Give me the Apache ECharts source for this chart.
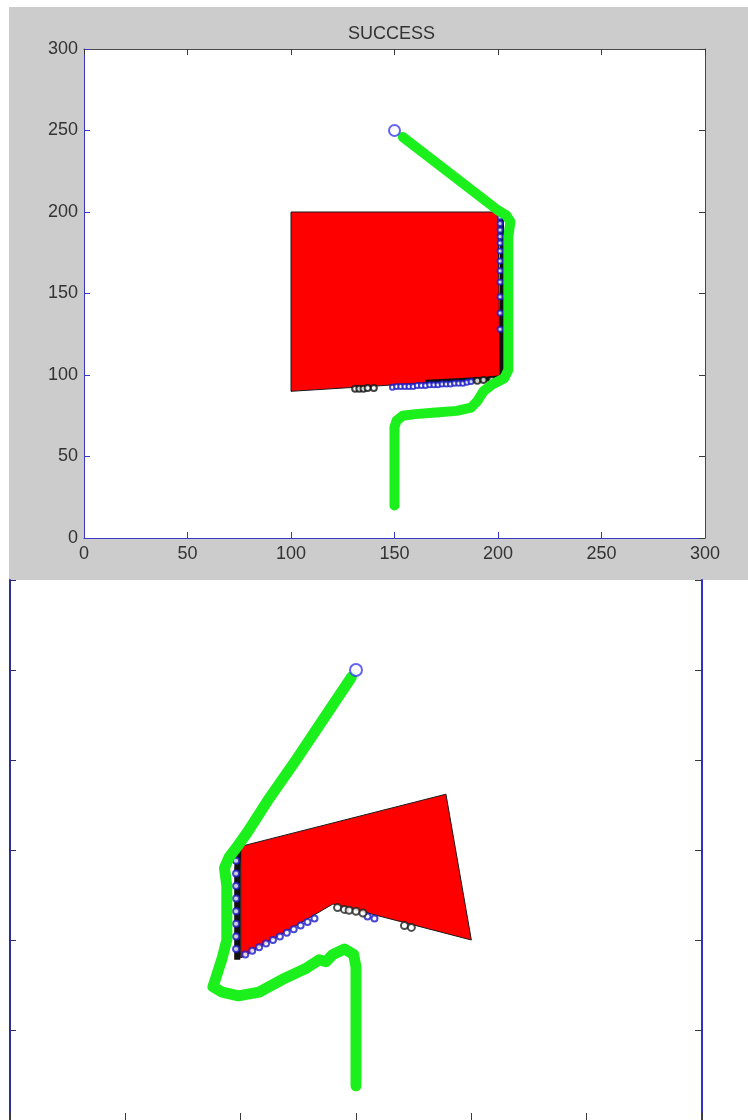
<!DOCTYPE html>
<html>
<head>
<meta charset="utf-8">
<script src="https://cdn.jsdelivr.net/npm/echarts@6/dist/echarts.min.js"></script>
<style>
html,body{margin:0;padding:0;background:#fff;}
#chart{width:748px;height:1120px;}
</style>
</head>
<body>
<div id="chart"></div>
<script>
// ---- data ----
var titleText = 'SUCCESS';
var axisMin = 0, axisMax = 300, axisStep = 50;

// top plot
var topObstacle = [[100,200],[200,200],[201,98],[100,90]];
var topPath = [[150,20],[150,45],[150,68],[151,72],[154,75],[160,76],[170,77],[180,78],[187,80],[190,84],[193,90],[197,94],[203,98],[205,103],[205,130],[205,160],[205,185],[206,194],[204,198],[200,201],[154,246]];
var topGoal = [[150,250]];
var topContactTrace = [[165,95.5],[180,96.5],[195,97.5],[202,98.5],[202,120],[202,150],[202,180],[201.5,200]];
var topBlueContacts = [[149,92.5],[151,93],[153,93],[155,93],[157,93],[159,93],[161,93.5],[163,93.5],[165,93.5],[167,94],[169,94],[171,94],[173,94.5],[175,94.5],[177,94.5],[179,95],[181,95],[183,95],[185,95.5],[187,96],[201,197],[201,193],[201,189],[201,185],[201,181],[201,176],[201,170],[201,164],[201,157],[201,148],[201,138],[201,128]];
var topBlackContacts = [[131,91.5],[133,91.5],[135,91.5],[137,92],[140,92],[190,96.5],[193,97],[197,97]];

// bottom plot
var botObstacle = [[100,152],[189,181],[200,100],[140,120],[100,90]];
var botPath = [[148,246],[136,223],[124,200],[112,178],[103,160],[98,151],[95,146],[93,140],[94,130],[94,115],[94,100],[92,90],[89,78],[88,74],[92,71],[99,69],[108,71],[118,78],[128,84],[134,89],[137,88],[140,92],[145,95],[149,92],[150,85],[150,60],[150,35],[150,19]];
var botGoal = [[150,250]];
var botContactTrace = [[98.5,89],[98.5,100],[98.5,120],[98.5,140],[99,151]];
var botBlueContacts = [[98,95],[98,102],[98,109],[98,116],[98,123],[98,130],[98,137],[98,144],[102,92],[105,94],[108,96],[111,98],[114,100],[117,102],[120,104],[123,106],[126,108],[129,110],[132,112],[155,113],[158,112]];
var botBlackContacts = [[142,118],[145,117],[147,116.5],[150,116],[153,115],[171,108],[174,107]];

// ---- styles ----
var FONT = 'Liberation Sans';
var BLUE_AXIS = '#3838c4';
var DARK = '#3a3a3a';

function axisBase(extra){
  var a = {
    type:'value', min:axisMin, max:axisMax, interval:axisStep,
    splitLine:{show:false},
    axisLine:{show:true, onZero:false, lineStyle:{color:BLUE_AXIS, width:1}},
    axisTick:{show:true, inside:true, length:6, lineStyle:{color:DARK}},
    axisLabel:{show:false}
  };
  for (var k in extra) a[k] = extra[k];
  return a;
}
var labelStyle = {show:true, fontFamily:FONT, fontSize:18, color:'#333', showMinLabel:true, showMaxLabel:true};

function polyRender(points){
  return function(params, api){
    if (params.dataIndex !== 0) return;
    var pts = points.map(function(p){ return api.coord(p); });
    return {type:'polygon', shape:{points:pts}, style:{fill:'#ff0000', stroke:'#1a1a1a', lineWidth:1}};
  };
}

var chart = echarts.init(document.getElementById('chart'), null, {renderer:'canvas', width:748, height:1120});
chart.setOption({
  animation:false,
  backgroundColor:'#ffffff',
  graphic:[{type:'rect', z:-100, shape:{x:9, y:7, width:739, height:573}, style:{fill:'#cccccc'}}],
  title:{text:titleText, left:343, top:20,
    textStyle:{fontFamily:FONT, fontSize:18, fontWeight:'normal', color:'#333'}},
  grid:[
    {left:84, top:49, width:621, height:489, show:true, backgroundColor:'#ffffff', borderWidth:0},
    {left:10, top:580, width:692, height:541, show:false}
  ],
  xAxis:[
    axisBase({gridIndex:0, position:'bottom', axisLabel:Object.assign({margin:7}, labelStyle),
      axisTick:{show:true, inside:true, length:6, lineStyle:{color:BLUE_AXIS}}}),
    axisBase({gridIndex:0, position:'top', axisLine:{show:true, onZero:false, lineStyle:{color:'#4a4a4a'}}}),
    axisBase({gridIndex:1, position:'bottom', axisTick:{show:true, inside:true, length:7, lineStyle:{color:DARK}}}),
    axisBase({gridIndex:1, position:'top', axisLine:{show:false}, axisTick:{show:true, inside:true, length:5, lineStyle:{color:DARK}}})
  ],
  yAxis:[
    axisBase({gridIndex:0, position:'left', axisLabel:Object.assign({margin:6}, labelStyle),
      axisTick:{show:true, inside:true, length:6, lineStyle:{color:BLUE_AXIS}}}),
    axisBase({gridIndex:0, position:'right'}),
    axisBase({gridIndex:1, position:'left', axisLine:{show:true, onZero:false, lineStyle:{color:'#2e2e96', width:2}},
      axisTick:{show:true, inside:true, length:6, lineStyle:{color:'#2a2a7a'}}}),
    axisBase({gridIndex:1, position:'right', axisLine:{show:true, onZero:false, lineStyle:{color:'#3030d0', width:2}},
      axisTick:{show:true, inside:true, length:7, lineStyle:{color:DARK}}})
  ],
  series:[
    // ---- top ----
    {type:'custom', xAxisIndex:0, yAxisIndex:0, data:topObstacle, renderItem:polyRender(topObstacle), z:1},
    {type:'line', xAxisIndex:0, yAxisIndex:0, data:topContactTrace, showSymbol:false, lineStyle:{color:'#111', width:5}, z:2},
    {type:'scatter', xAxisIndex:0, yAxisIndex:0, data:topBlueContacts, symbol:'emptyCircle', symbolSize:5, itemStyle:{color:'#1a1ac8', borderWidth:1.4}, z:3},
    {type:'scatter', xAxisIndex:0, yAxisIndex:0, data:topBlackContacts, symbol:'emptyCircle', symbolSize:6, itemStyle:{color:'#111', borderWidth:1.2}, z:3},
    {type:'line', xAxisIndex:0, yAxisIndex:0, data:topPath, showSymbol:false, lineStyle:{color:'#1cf01c', width:10, cap:'round', join:'round'}, z:4},
    {type:'scatter', xAxisIndex:0, yAxisIndex:0, data:topGoal, symbol:'emptyCircle', symbolSize:11, itemStyle:{color:'#3c3cf0', borderWidth:1.5}, z:5},
    // ---- bottom ----
    {type:'custom', xAxisIndex:2, yAxisIndex:2, data:botObstacle, renderItem:polyRender(botObstacle), z:1},
    {type:'line', xAxisIndex:2, yAxisIndex:2, data:botContactTrace, showSymbol:false, lineStyle:{color:'#111', width:6}, z:2},
    {type:'scatter', xAxisIndex:2, yAxisIndex:2, data:botBlueContacts, symbol:'emptyCircle', symbolSize:6, itemStyle:{color:'#1a1ac8', borderWidth:1.4}, z:3},
    {type:'scatter', xAxisIndex:2, yAxisIndex:2, data:botBlackContacts, symbol:'emptyCircle', symbolSize:7, itemStyle:{color:'#222', borderWidth:1.2}, z:3},
    {type:'line', xAxisIndex:2, yAxisIndex:2, data:botPath, showSymbol:false, lineStyle:{color:'#1cf01c', width:11, cap:'round', join:'round'}, z:4},
    {type:'scatter', xAxisIndex:2, yAxisIndex:2, data:botGoal, symbol:'emptyCircle', symbolSize:12, itemStyle:{color:'#3c3cf0', borderWidth:1.5}, z:5}
  ]
});
</script>
</body>
</html>
